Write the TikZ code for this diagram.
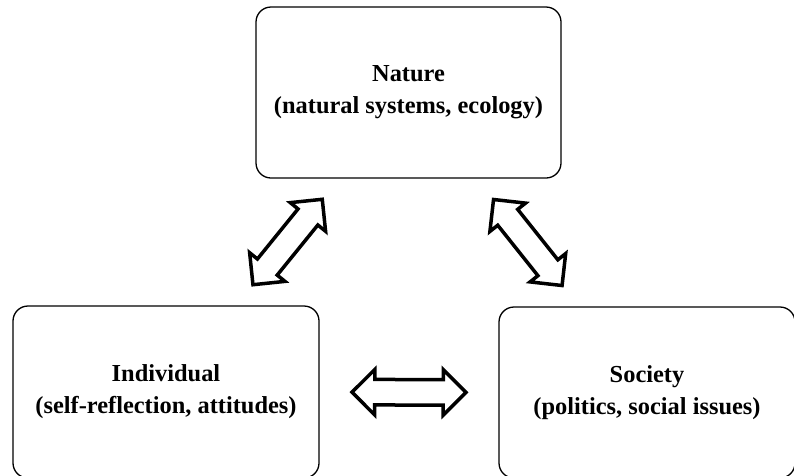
\documentclass[tikz,border=0pt]{standalone}
\usepackage{fontspec}
\setmainfont{Liberation Serif}
\usetikzlibrary{shapes.arrows}

\begin{document}
\begin{tikzpicture}[x=1pt,y=-1pt,
    box/.style={draw, line width=1.3pt, rounded corners=15pt, align=center,
        font=\bfseries\fontsize{24.4}{32}\selectfont, inner sep=0pt},
    dblarrow/.style={double arrow, draw, line width=3.5pt, fill=white,
        minimum height=114pt, inner xsep=0pt, inner ysep=11pt,
        double arrow head extend=10pt, sloped}]
    \useasboundingbox (0,0) rectangle (794,475);
    % Boxes
    \node[box, minimum width=305pt, minimum height=171pt] (nat) at (408.5,92.5)
        {Nature\\(natural systems, ecology)};
    \node[box, minimum width=306pt, minimum height=172pt] (ind) at (166,392)
        {Individual\\(self-reflection, attitudes)};
    \node[box, minimum width=296pt, minimum height=171pt] (soc) at (647,392.5)
        {Society\\(politics, social issues)};
    % Arrows
    \path (ind) -- node[dblarrow, minimum height=110pt] {} (nat);
    \path (nat) -- node[dblarrow, minimum height=110pt] {} (soc);
    \path (ind) -- node[dblarrow] {} (soc);
\end{tikzpicture}
\end{document}
